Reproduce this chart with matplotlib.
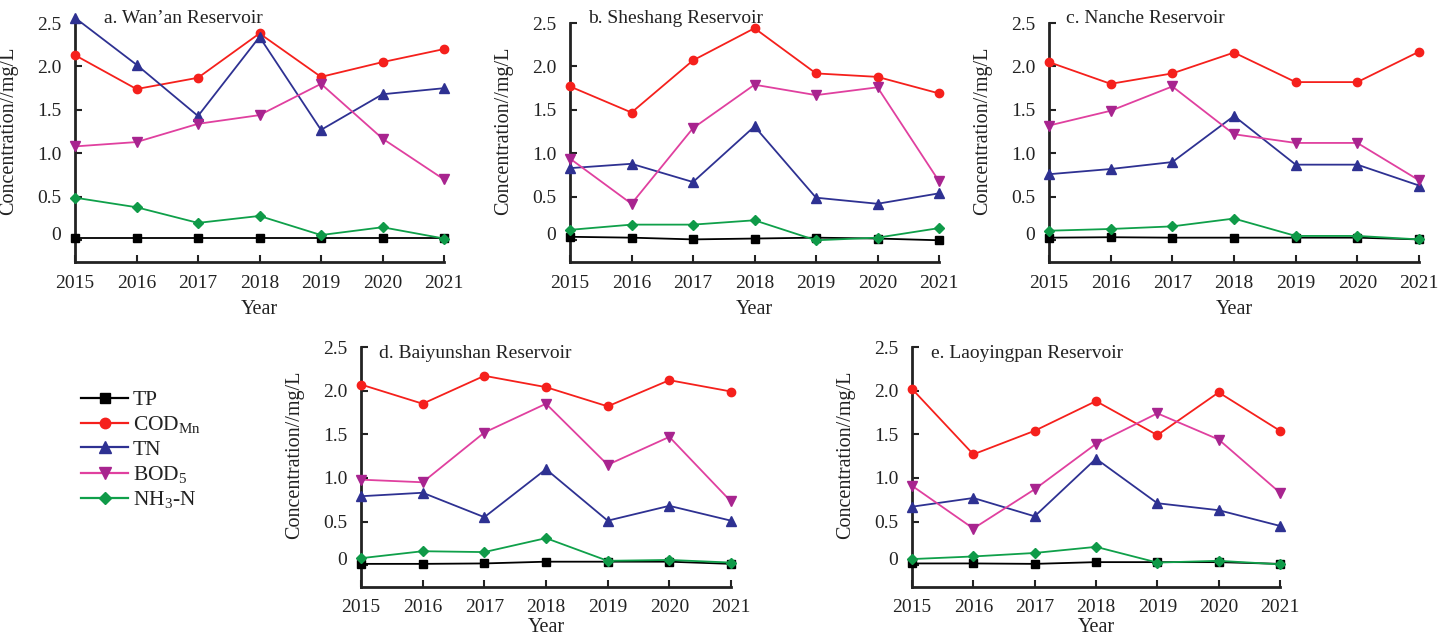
import matplotlib
matplotlib.use("Agg")
import matplotlib.pyplot as plt
from matplotlib.lines import Line2D
from matplotlib.transforms import ScaledTranslation

plt.rcParams['font.family'] = ['Liberation Serif', 'DejaVu Serif']
plt.rcParams['mathtext.fontset'] = 'custom'
plt.rcParams['mathtext.rm'] = 'Liberation Serif'
plt.rcParams['mathtext.it'] = 'Liberation Serif:italic'

years = [2015, 2016, 2017, 2018, 2019, 2020, 2021]
series_names = ["TP", "COD$_{\\mathrm{Mn}}$", "TN", "BOD$_{5}$", "NH$_{3}$-N"]
titles = ["a. Wan\u2019an Reservoir", "b. Sheshang Reservoir", "c. Nanche Reservoir",
          "d. Baiyunshan Reservoir", "e. Laoyingpan Reservoir"]

# a. Wan'an
a_TP  = [0.03, 0.03, 0.03, 0.03, 0.03, 0.03, 0.03]
a_COD = [2.13, 1.74, 1.87, 2.38, 1.88, 2.05, 2.20]
a_TN  = [2.56, 2.02, 1.43, 2.34, 1.27, 1.68, 1.75]
a_BOD = [1.08, 1.13, 1.34, 1.44, 1.80, 1.17, 0.70]
a_NH3 = [0.49, 0.38, 0.20, 0.28, 0.06, 0.15, 0.02]
# b. Sheshang
b_TP  = [0.04, 0.03, 0.01, 0.02, 0.03, 0.02, 0.00]
b_COD = [1.77, 1.47, 2.07, 2.44, 1.92, 1.88, 1.69]
b_TN  = [0.83, 0.88, 0.67, 1.31, 0.49, 0.42, 0.54]
b_BOD = [0.94, 0.42, 1.29, 1.79, 1.67, 1.76, 0.68]
b_NH3 = [0.12, 0.18, 0.18, 0.23, 0.00, 0.03, 0.14]
# c. Nanche
c_TP  = [0.03, 0.035, 0.03, 0.03, 0.03, 0.03, 0.01]
c_COD = [2.05, 1.80, 1.92, 2.16, 1.82, 1.82, 2.17]
c_TN  = [0.76, 0.82, 0.90, 1.43, 0.87, 0.87, 0.63]
c_BOD = [1.32, 1.49, 1.77, 1.22, 1.12, 1.12, 0.69]
c_NH3 = [0.11, 0.13, 0.16, 0.25, 0.05, 0.05, 0.01]
# d. Baiyunshan
d_TP  = [0.015, 0.015, 0.02, 0.04, 0.04, 0.04, 0.015]
d_COD = [2.07, 1.85, 2.17, 2.04, 1.82, 2.12, 1.99]
d_TN  = [0.79, 0.83, 0.55, 1.10, 0.51, 0.68, 0.51]
d_BOD = [0.98, 0.95, 1.52, 1.85, 1.15, 1.47, 0.73]
d_NH3 = [0.08, 0.16, 0.15, 0.31, 0.05, 0.06, 0.03]
# e. Laoyingpan
e_TP  = [0.02, 0.02, 0.015, 0.035, 0.035, 0.035, 0.015]
e_COD = [2.02, 1.27, 1.54, 1.88, 1.49, 1.98, 1.54]
e_TN  = [0.67, 0.77, 0.56, 1.22, 0.71, 0.63, 0.45]
e_BOD = [0.91, 0.42, 0.87, 1.39, 1.74, 1.44, 0.83]
e_NH3 = [0.07, 0.10, 0.14, 0.21, 0.03, 0.05, 0.01]

panels = [
    [a_TP, a_COD, a_TN, a_BOD, a_NH3],
    [b_TP, b_COD, b_TN, b_BOD, b_NH3],
    [c_TP, c_COD, c_TN, c_BOD, c_NH3],
    [d_TP, d_COD, d_TN, d_BOD, d_NH3],
    [e_TP, e_COD, e_TN, e_BOD, e_NH3],
]

line_colors = ['#000000', '#F5201C', '#2E3192', '#E0409F', '#0FA04A']
marker_colors = ['#000000', '#F5201C', '#2E3192', '#A8248F', '#0F9A48']
markers = ['s', 'o', '^', 'v', 'D']
msizes = [5.5, 6, 6.5, 6.5, 5]

W, H = 1452, 640
fig = plt.figure(figsize=(W / 100, H / 100), dpi=100)

# axes rectangles in pixels: left, right, top(2.5), bottom(x-axis)
rects = [
    (75, 444, 23, 262),
    (570, 939, 23, 262),
    (1049, 1419, 23, 262),
    (361, 731, 347, 587),
    (912, 1280, 347, 587),
]
title_pos = [(0.079, 1.02), (0.049, 1.02), (0.046, 1.017), (0.049, 0.971), (0.052, 0.975)]
year_label_y = [-0.2, -0.2, -0.2, -0.168, -0.168]

fs = 14
for i, (l, r, t, b) in enumerate(rects):
    ax = fig.add_axes([l / W, 1 - b / H, (r - l) / W, (b - t) / H])
    data = panels[i]
    for j in range(5):
        ax.plot(years, data[j], color=line_colors[j], lw=1.3, marker=markers[j],
                markersize=msizes[j], markerfacecolor=marker_colors[j],
                markeredgecolor=marker_colors[j], clip_on=False, zorder=3 + j)
    ax.set_xlim(2015, 2021)
    ax.set_ylim(-0.25, 2.5)
    ax.set_yticks([0, 0.5, 1.0, 1.5, 2.0, 2.5])
    ax.set_yticklabels(['0', '0.5', '1.0', '1.5', '2.0', '2.5'])
    ax.set_xticks(years)
    ax.set_xticklabels([str(y) for y in years])
    for s in ['top', 'right']:
        ax.spines[s].set_visible(False)
    for s in ['left', 'bottom']:
        ax.spines[s].set_linewidth(2.0)
        ax.spines[s].set_color('#222222')
    ax.spines['left'].set_bounds(-0.25, 2.5)
    ax.tick_params(axis='both', direction='in', length=5, width=1.5, labelsize=fs,
                   colors='#222222')
    ax.tick_params(axis='y', pad=10)
    ax.tick_params(axis='x', pad=9)
    # the "0" label sits a little above its tick in the reference
    zero_lab = ax.get_yticklabels()[0]
    zero_lab.set_transform(zero_lab.get_transform() +
                           ScaledTranslation(0, 7 / 100, fig.dpi_scale_trans))
    ax.set_ylabel('Concentration//mg/L', fontsize=14.5, color='#222222')
    ax.yaxis.set_label_coords(-0.155, 0.55)
    ax.set_xlabel('Year', fontsize=14.5, color='#222222')
    ax.xaxis.set_label_coords(0.5, year_label_y[i])
    ax.xaxis.label.set_va('center')
    ax.patch.set_alpha(0)
    tx, ty = title_pos[i]
    ax.text(tx, ty, titles[i], transform=ax.transAxes, fontsize=fs, ha='left',
            va='center', color='#222222')

handles = [Line2D([0], [0], color=line_colors[j], lw=1.6, marker=markers[j],
                  markersize=msizes[j] + 1.5, markerfacecolor=marker_colors[j],
                  markeredgecolor=marker_colors[j]) for j in range(5)]
leg = fig.legend(handles, series_names, loc='upper left',
                 bbox_to_anchor=(81 / W, 1 - 390 / H), frameon=False,
                 fontsize=15.5, handlelength=2.2, handletextpad=0.2,
                 labelspacing=0.2, borderpad=0, borderaxespad=0)
for txt in leg.get_texts():
    txt.set_color('#222222')

fig.savefig('out.png', dpi=100)
